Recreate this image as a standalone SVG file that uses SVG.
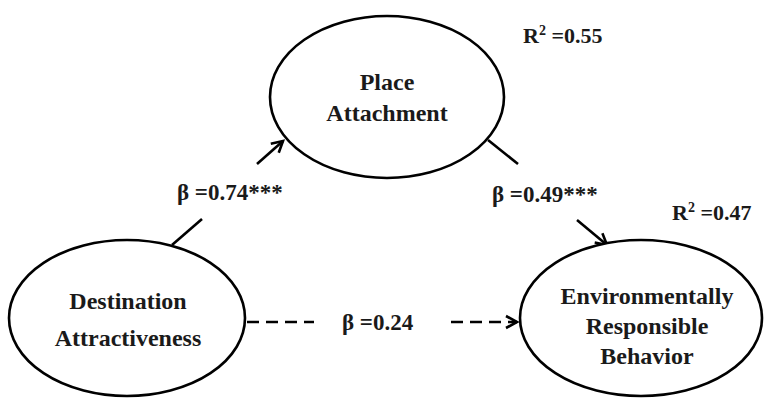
<svg xmlns="http://www.w3.org/2000/svg" width="767" height="399" viewBox="0 0 767 399">
<style>
.node{fill:#fff;stroke:#000;stroke-width:2.6}
.t{font-family:"Liberation Serif","Times New Roman",serif;font-weight:bold;font-size:24px;fill:#1a1a1a}
.s{font-size:23px}
.r{font-size:22px}
.m{text-anchor:middle}
.c{stroke:#000;stroke-width:2.6;fill:none}
.d{stroke-dasharray:12 7}
</style>
<defs>
<marker id="ah" markerUnits="userSpaceOnUse" markerWidth="16" markerHeight="16" refX="12" refY="7" orient="auto" viewBox="0 0 16 14">
<path d="M1,1 L12,7 L1,13" fill="none" stroke="#000" stroke-width="2.6"/>
</marker>
</defs>
<rect width="767" height="399" fill="#fff"/>
<g id="connectors">
<line class="c" x1="172" y1="245" x2="202" y2="219"/>
<line class="c" x1="257" y1="164" x2="283" y2="141" marker-end="url(#ah)"/>
<line class="c" x1="488" y1="140" x2="518" y2="164"/>
<line class="c" x1="577" y1="220" x2="607" y2="245" marker-end="url(#ah)"/>
<line class="c d" x1="247" y1="322" x2="314" y2="322"/>
<line class="c d" x1="451" y1="322" x2="517" y2="322" marker-end="url(#ah)"/>
<text class="t s" x="177" y="200">β =0.74***</text>
<text class="t s" x="492" y="202">β =0.49***</text>
<text class="t s" x="342" y="330">β =0.24</text>
</g>
<g id="place-attachment">
<ellipse class="node" cx="387" cy="97" rx="117" ry="81"/>
<text class="t m" x="387" y="90">Place</text>
<text class="t m" x="387" y="121">Attachment</text>
<text class="t r" x="523" y="43">R<tspan font-size="14" dy="-8">2</tspan><tspan dy="8"> =0.55</tspan></text>
</g>
<g id="destination-attractiveness">
<ellipse class="node" cx="127" cy="318" rx="118" ry="78"/>
<text class="t m" x="128" y="309">Destination</text>
<text class="t m" x="128" y="346">Attractiveness</text>
</g>
<g id="environmentally-responsible-behavior">
<ellipse class="node" cx="641" cy="318" rx="121" ry="78"/>
<text class="t m" x="647" y="304">Environmentally</text>
<text class="t m" x="647" y="334">Responsible</text>
<text class="t m" x="647" y="364">Behavior</text>
<text class="t r" x="672" y="220">R<tspan font-size="14" dy="-8">2</tspan><tspan dy="8"> =0.47</tspan></text>
</g>
</svg>
